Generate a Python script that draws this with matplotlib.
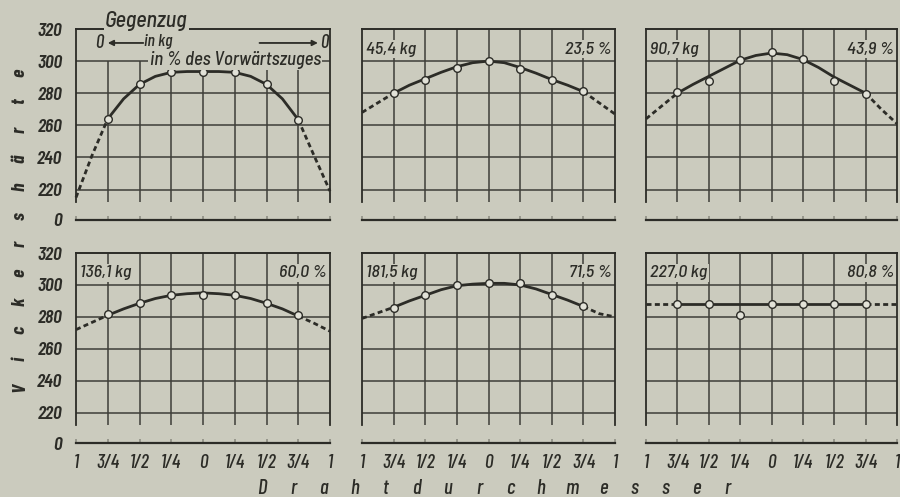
import numpy as np
import matplotlib
matplotlib.use('Agg')
import matplotlib.pyplot as plt

# ---------------- data ----------------
x_quarters = [-1.0, -0.75, -0.5, -0.25, 0.0, 0.25, 0.5, 0.75, 1.0]
x_tick_labels = ['1', '3/4', '1/2', '1/4', '0', '1/4', '1/2', '3/4', '1']
x_points = [-0.75, -0.5, -0.25, 0.0, 0.25, 0.5, 0.75]
x_curve = [-1.0, -0.875, -0.75, -0.625, -0.5, -0.375, -0.25, -0.125, 0.0,
           0.125, 0.25, 0.375, 0.5, 0.625, 0.75, 0.875, 1.0]
y_ticks = [220, 240, 260, 280, 300, 320]

load_kg = ['', '45,4 kg', '90,7 kg', '136,1 kg', '181,5 kg', '227,0 kg']
load_pct = ['', '23,5 %', '43,9 %', '60,0 %', '71,5 %', '80,8 %']

points_0 = [264, 286, 293, 293, 293, 286, 263]
curve_0 = [215, 241, 264, 276.5, 285.5, 290.5, 293, 293.5, 293.5, 293.5, 293, 290.5, 285.5, 276.5, 263.5, 241, 219]

points_1 = [280, 288.5, 295.5, 300, 295, 288, 281.5]
curve_1 = [268, 274, 280, 285, 289, 293, 296.5, 299, 300, 299, 296, 292.5, 288.5, 285, 281, 274, 267]

points_2 = [280.5, 287.5, 300.5, 305.5, 301, 287.5, 279.5]
curve_2 = [264, 272, 280, 285.5, 290.5, 295.5, 300.5, 303.5, 305, 304, 301, 296, 290, 285, 280, 270, 261]

points_3 = [281.5, 288.5, 293.5, 294, 293.5, 288.5, 281]
curve_3 = [272, 276.5, 281, 285, 288.5, 291.5, 293.5, 294.5, 295, 294.5, 293.5, 291.5, 288.5, 285, 280.5, 276, 271]

points_4 = [285.5, 294, 300, 301, 301.5, 294, 286.5]
curve_4 = [279, 282.5, 286, 290, 293.5, 297, 299.5, 300.5, 301, 301, 300, 297.5, 294, 290.5, 286.5, 282, 280]

points_5 = [288, 288, 281, 288, 288, 288, 288]
curve_5 = [288] * 17

all_points = [points_0, points_1, points_2, points_3, points_4, points_5]
all_curves = [curve_0, curve_1, curve_2, curve_3, curve_4, curve_5]

# ---------------- style ----------------
BG = '#cbcbbe'
INK = '#2c2c27'
GRID = '#3e3e38'
FONT = ['Barlow Condensed', 'DejaVu Sans']
SEMI = ['Barlow Semi Condensed', 'Barlow Condensed', 'DejaVu Sans']
plt.rcParams['font.family'] = FONT
plt.rcParams['font.style'] = 'italic'
plt.rcParams['font.weight'] = 500

W, H = 900, 497
fig = plt.figure(figsize=(W / 100, H / 100), dpi=100, facecolor=BG)

BASE = 201.0      # the "0" line
FRAME_BOT = 212.0
TOP = 320.0

cols = [(76, 254), (362, 253), (646, 251)]
rows = [(29, 220), (253, 443)]

def px_rect(l, w, t, b):
    return [l / W, 1 - b / H, w / W, (b - t) / H]

for i in range(6):
    r, c = divmod(i, 3)
    l, w = cols[c]
    t, b = rows[r]
    ax = fig.add_axes(px_rect(l, w, t, b))
    ax.set_facecolor(BG)
    ax.set_xlim(-1, 1)
    ax.set_ylim(BASE, TOP)

    # grid
    vtop = 300 if i == 0 else TOP
    ax.vlines(x_quarters[1:-1], FRAME_BOT, vtop, color=GRID, lw=1.1, zorder=1)
    ax.hlines(y_ticks[:-1], -1, 1, color=GRID, lw=1.1, zorder=1)

    for s in ['left', 'right']:
        ax.spines[s].set_bounds(FRAME_BOT, TOP)
        ax.spines[s].set_color(INK)
        ax.spines[s].set_linewidth(1.3)
    ax.spines['top'].set_color(INK)
    ax.spines['top'].set_linewidth(1.4)
    ax.spines['bottom'].set_color(INK)
    ax.spines['bottom'].set_linewidth(1.6)

    ax.set_xticks(x_quarters)
    ax.tick_params(axis='x', direction='in', length=3, width=1.2, color='#8e8e84',
                   pad=8, labelsize=14, labelcolor=INK)
    if r == 0:
        ax.set_xticklabels([])
    else:
        ax.set_xticklabels(x_tick_labels)

    ax.set_yticks([BASE] + y_ticks)
    ax.tick_params(axis='y', length=0, pad=10, labelsize=14, labelcolor=INK)
    if c == 0:
        ax.set_yticklabels(['0'] + [str(v) for v in y_ticks])
        for lab in ax.get_yticklabels():
            lab.set_fontweight('semibold')
    else:
        ax.set_yticklabels([])

    # curve: solid centre, dashed ends
    cv = all_curves[i]
    ax.plot(x_curve[2:15], cv[2:15], color=INK, lw=2.0, zorder=3,
            solid_capstyle='round')
    ax.plot(x_curve[:3], cv[:3], color=INK, lw=2.0, zorder=3,
            linestyle=(0, (1.8, 1.2)), clip_on=False)
    ax.plot(x_curve[14:], cv[14:], color=INK, lw=2.0, zorder=3,
            linestyle=(0, (1.8, 1.2)), clip_on=False)
    ax.plot(x_points, all_points[i], linestyle='none', marker='o', ms=5.5,
            mfc='#e2e2d8', mec=INK, mew=1.0, zorder=4)

    box = dict(facecolor=BG, edgecolor='none', pad=1.0)
    if i == 0:
        ax.text(-0.77, 324.8, 'Gegenzug', fontsize=16, ha='left', va='center',
                color=INK, bbox=box, zorder=6, clip_on=False, family=SEMI)
        ax.text(-0.82, 311.3, '0', fontsize=13.5, ha='center', va='center',
                color=INK, zorder=6)
        ax.annotate('', xy=(-0.75, 311.3), xytext=(-0.47, 311.3),
                    arrowprops=dict(arrowstyle='-|>', color=INK, lw=1.3,
                                    mutation_scale=8, shrinkA=0, shrinkB=0),
                    zorder=6)
        ax.text(-0.465, 312.3, 'in kg', fontsize=12.5, ha='left', va='center',
                color=INK, zorder=6)
        ax.annotate('', xy=(0.905, 311.3), xytext=(0.445, 311.3),
                    arrowprops=dict(arrowstyle='-|>', color=INK, lw=1.3,
                                    mutation_scale=8, shrinkA=0, shrinkB=0),
                    zorder=6)
        ax.text(0.955, 311.3, '0', fontsize=13.5, ha='center', va='center',
                color=INK, zorder=6)
        ax.text(-0.42, 300.8, 'in % des Vorwärtszuges', fontsize=13.5,
                ha='left', va='center', color=INK, bbox=box, zorder=6,
                family=SEMI)
    else:
        ax.text(-0.965, 307.5, load_kg[i], fontsize=13, ha='left', va='center',
                color=INK, bbox=box, zorder=6, family=SEMI)
        ax.text(0.975, 307.5, load_pct[i], fontsize=13, ha='right', va='center',
                color=INK, bbox=box, zorder=6, family=SEMI)

# spaced axis titles
ylab = 'Vickershärte'
for k, ch in enumerate(ylab):
    ypx = 387 - k * (387 - 73) / (len(ylab) - 1)
    fig.text(20 / W, 1 - ypx / H, ch, rotation=90, ha='center', va='center',
             fontsize=14, color=INK, fontweight='bold')

xlab = 'Drahtdurchmesser'
for k, ch in enumerate(xlab):
    xpx = 262 + k * (727 - 262) / (len(xlab) - 1)
    fig.text(xpx / W, 1 - 489 / H, ch, ha='center', va='center',
             fontsize=15, color=INK)

fig.savefig('out.png', dpi=100, facecolor=BG)
